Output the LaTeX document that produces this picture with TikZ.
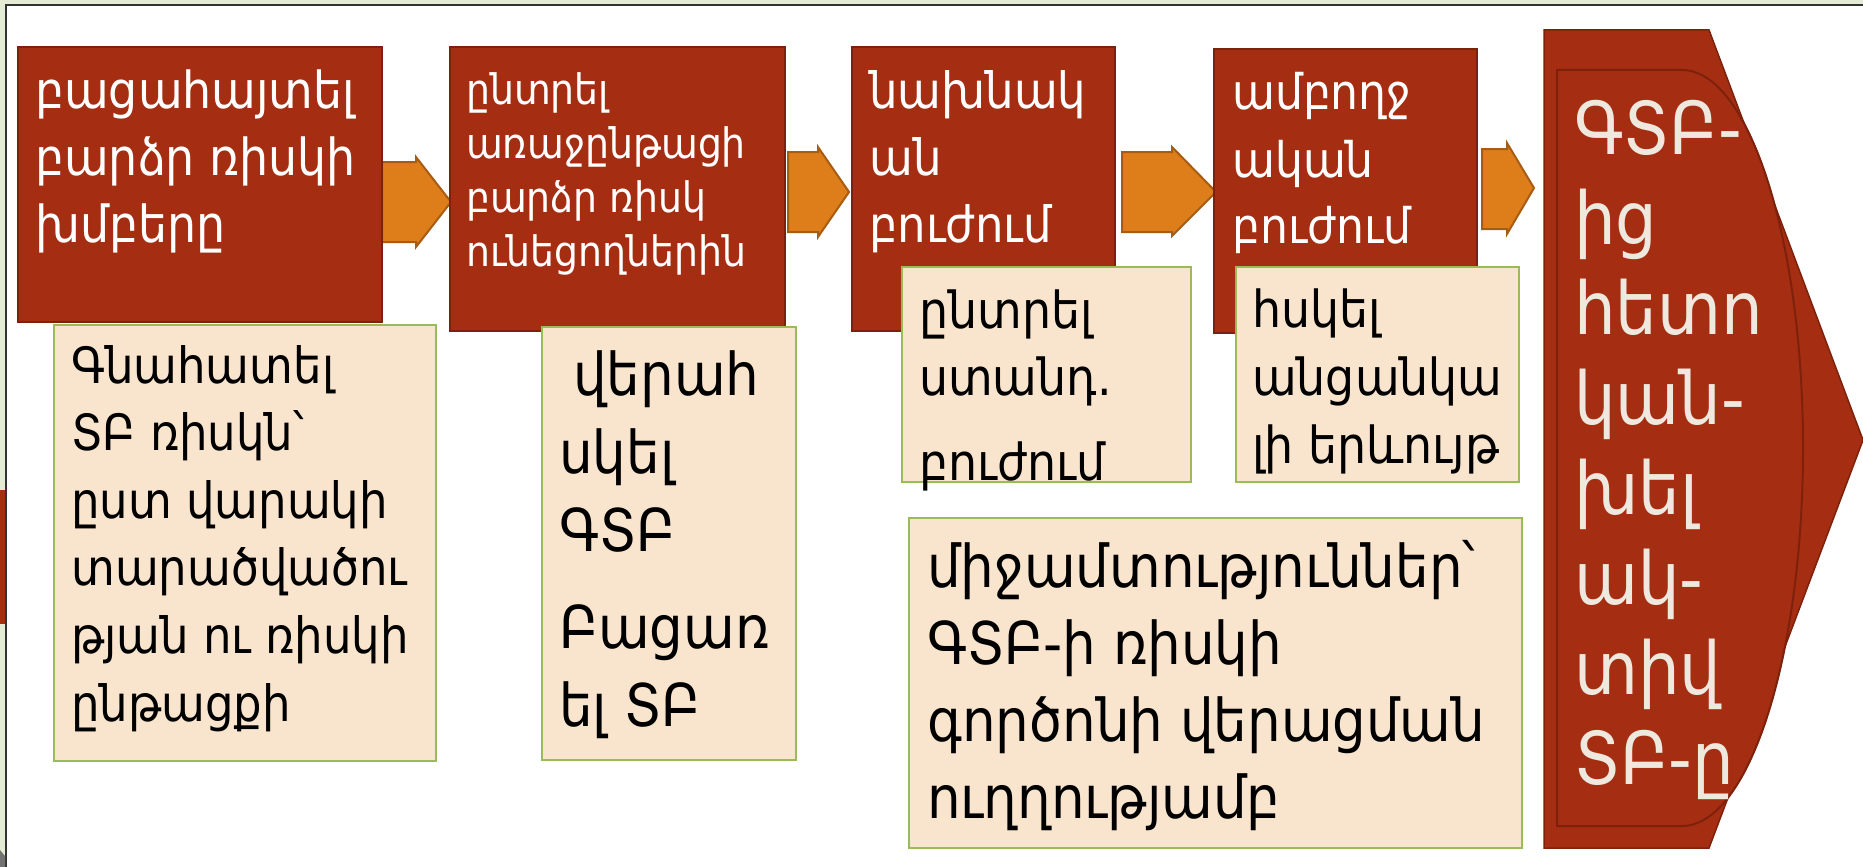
\documentclass[tikz,border=0pt]{standalone}
\usepackage{fontspec}
\setmainfont{DejaVu Sans Condensed}
\definecolor{boxred}{RGB}{165,46,18}
\definecolor{boxredline}{RGB}{125,33,12}
\definecolor{arroworange}{RGB}{221,126,27}
\definecolor{arrowline}{RGB}{168,92,18}
\definecolor{beige}{RGB}{249,228,205}
\definecolor{beigeline}{RGB}{155,187,89}
\definecolor{pentatext}{RGB}{238,232,222}
\definecolor{framegreen}{RGB}{228,236,212}
\begin{document}
\begin{tikzpicture}[x=1pt,y=-1pt,
  redbox/.style={draw=boxredline, fill=boxred, line width=2pt, inner sep=0pt, outer sep=0pt, anchor=north west},
  beigebox/.style={draw=beigeline, fill=beige, line width=2.5pt, inner sep=0pt, outer sep=0pt, anchor=north west},
  blockarrow/.style={draw=arrowline, fill=arroworange, line width=2pt, line join=miter},
  wtext/.style={anchor=base west, inner sep=0pt, text=white},
  btext/.style={anchor=base west, inner sep=0pt, text=black},
  ptext/.style={anchor=base west, inner sep=0pt, text=pentatext},
]
\useasboundingbox (0,0) rectangle (1863,867);
% background and frame
\fill[framegreen] (0,0) rectangle (1863,867);
\fill[white] (7,6) rectangle (1863,867);
\draw[black!80, line width=2pt] (6,867) -- (6,5) -- (1863,5);
\fill[boxred] (0,490) rectangle (5,624);
\fill[black!55] (0,850) -- (5,856) -- (5,867) -- (0,867) -- cycle;

% block arrows
\draw[blockarrow] (382,162) -- (416,162) -- (416,157) -- (451,202) -- (416,247) -- (416,242) -- (382,242) -- cycle;
\draw[blockarrow] (788,152) -- (818,152) -- (818,147) -- (849,192) -- (818,237) -- (818,232) -- (788,232) -- cycle;
\draw[blockarrow] (1122,152) -- (1172,152) -- (1172,147) -- (1216,192) -- (1172,236) -- (1172,232) -- (1122,232) -- cycle;
\draw[blockarrow] (1482,149) -- (1507,149) -- (1507,143) -- (1534,188) -- (1507,234) -- (1507,229) -- (1482,229) -- cycle;

% red boxes
\node[redbox, minimum width=364pt, minimum height=275pt] (b1) at (18,47) {};
\node[redbox, minimum width=335pt, minimum height=284pt] (b2) at (450,47) {};
\node[redbox, minimum width=263pt, minimum height=284pt] (b3) at (852,47) {};
\node[redbox, minimum width=263pt, minimum height=284pt] (b4) at (1214,49) {};

% beige boxes
\node[beigebox, minimum width=382pt, minimum height=436pt] (bA) at (54,325) {};
\node[beigebox, minimum width=254pt, minimum height=433pt] (bB) at (542,327) {};
\node[beigebox, minimum width=289pt, minimum height=215pt] (bC) at (902,267) {};
\node[beigebox, minimum width=283pt, minimum height=215pt] (bD) at (1236,267) {};
\node[beigebox, minimum width=613pt, minimum height=330pt] (bE) at (909,518) {};

% texts in red boxes
\node[wtext, font=\fontsize{51}{67}\selectfont] (t1) at (35,108)
  {\parbox[t]{600pt}{\raggedright բացահայտել\\բարձր ռիսկի\\խմբերը}};
\node[wtext, font=\fontsize{42}{54}\selectfont] (t2) at (466,104)
  {\parbox[t]{600pt}{\raggedright ընտրել\\առաջընթացի\\բարձր ռիսկ\\ունեցողներին}};
\node[wtext, font=\fontsize{50}{67}\selectfont] (t3) at (869,108)
  {\parbox[t]{600pt}{\raggedright նախնակ\\ան\\բուժում}};
\node[wtext, font=\fontsize{49}{67}\selectfont] (t4) at (1232,110)
  {\parbox[t]{600pt}{\raggedright ամբողջ\\ական\\բուժում}};

% texts in beige boxes
\node[btext, font=\fontsize{50}{67.6}\selectfont] (tA) at (71,383)
  {\parbox[t]{600pt}{\raggedright Գնահատել\\ՏԲ ռիսկն՝\\ըստ վարակի\\տարածվածու\\թյան ու ռիսկի\\ընթացքի}};
\node[btext, font=\fontsize{59}{78}\selectfont] (tB) at (559,395)
  {\parbox[t]{600pt}{\raggedright \hspace*{14pt}վերահ\\սկել\\ԳՏԲ\\[19pt]Բացառ\\ել ՏԲ}};
\node[btext, font=\fontsize{51}{67}\selectfont] (tC) at (919,328)
  {\parbox[t]{600pt}{\raggedright ընտրել\\ստանդ.\\[18pt]բուժում}};
\node[btext, font=\fontsize{51}{68}\selectfont] (tD) at (1252,327)
  {\parbox[t]{600pt}{\raggedright հսկել\\անցանկա\\լի երևույթ}};
\node[btext, font=\fontsize{59}{77}\selectfont] (tE) at (927,587)
  {\parbox[t]{700pt}{\raggedright միջամտություններ՝\\ԳՏԲ-ի ռիսկի\\գործոնի վերացման\\ուղղությամբ}};

% final pentagon
\draw[draw=boxredline, fill=boxred, line width=1.5pt, line join=miter]
  (1544,30) -- (1709,30) -- (1863,440) -- (1709,848) -- (1544,848) -- cycle;
\draw[draw=boxredline, fill=boxred, line width=2pt]
  (1557,70) -- (1682,70) arc[start angle=90, end angle=-90, x radius=121pt, y radius=378pt] -- (1557,826) -- cycle;
\node[ptext, font=\fontsize{73}{90}\selectfont] (tP) at (1574,154)
  {\parbox[t]{300pt}{\raggedright ԳՏԲ-\\ից\\հետո\\կան-\\խել\\ակ-\\տիվ\\ՏԲ-ը}};
\end{tikzpicture}
\end{document}
